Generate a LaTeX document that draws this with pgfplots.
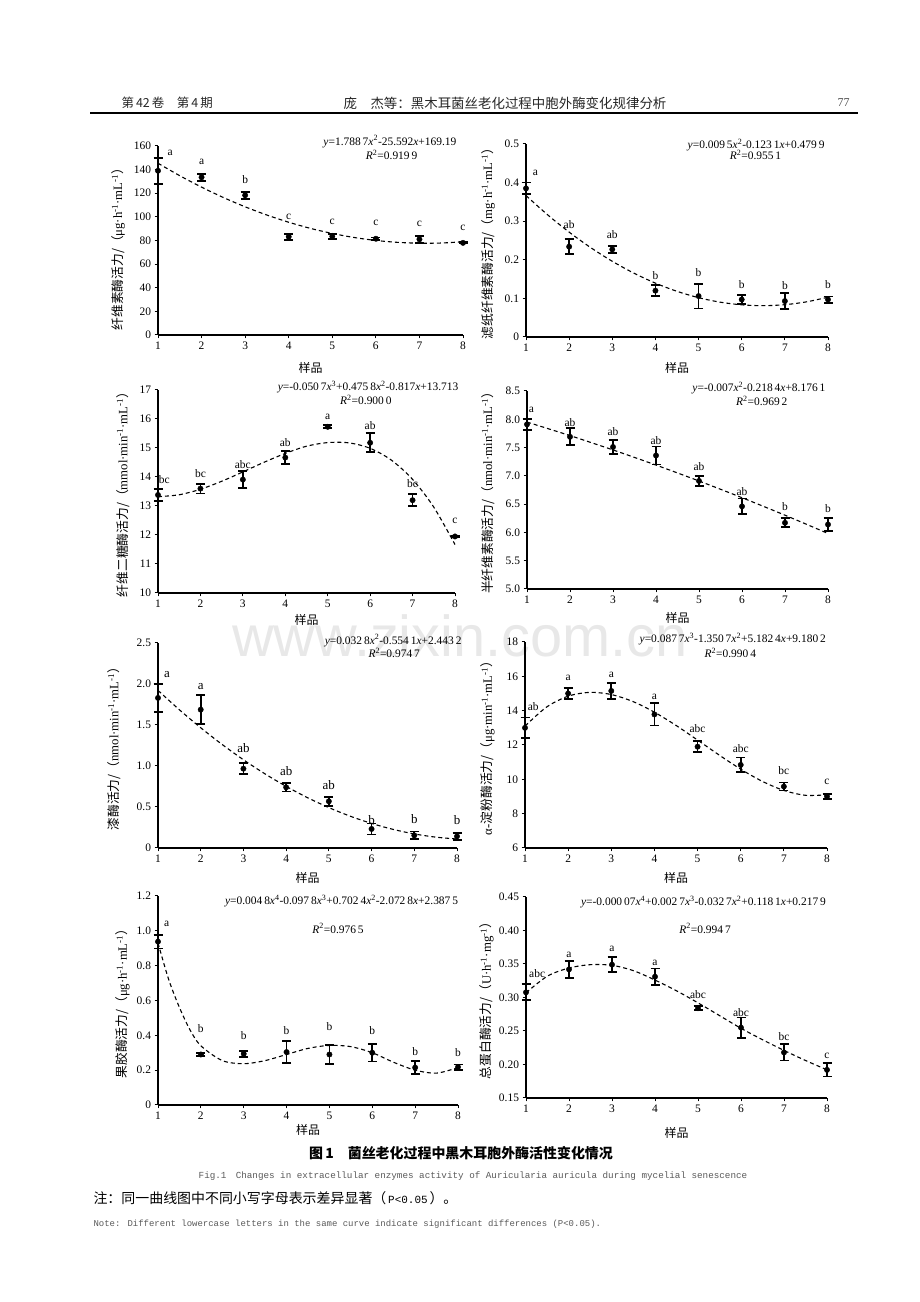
\documentclass[border=0pt]{standalone}
\usepackage{fontspec}
\setmainfont{Liberation Serif}
\newfontfamily\cjk{Noto Sans CJK SC}
\newfontfamily\mono{Liberation Mono}
\newfontfamily\wm{Liberation Sans}
\usepackage{pgfplots}
\pgfplotsset{compat=1.18}

\newcommand{\fs}[1]{\fontsize{#1}{#1}\selectfont}
\newcommand{\yl}[2]{{\cjk #1/（}#2{\cjk ）}}
\newcommand{\mi}{\textsuperscript{-1}}

\pgfplotsset{
 panel/.style={
   scale only axis, clip=false, anchor=south west,
   axis lines=left, axis line style={-, line width=1.3bp},
   xmin=1, xmax=8, xtick={1,...,8},
   tick align=outside, major tick length=3.5bp,
   every tick/.style={black, line width=1bp},
   tick label style={font=\fs{11.5}},
   /pgf/number format/assume math mode=true,
   xlabel={\cjk 样品}, xlabel style={font=\cjk\fs{12}, anchor=center},
   ylabel style={font=\fs{12.8}, anchor=center},
 },
 fit/.style={black, line width=1.1bp, dash pattern=on 4bp off 3bp, smooth},
 pts/.style={black, only marks, mark=*, mark size=2.7bp, mark options={fill=black},
   error bars/.cd, y dir=both, y explicit,
   error bar style={line width=1.8bp, black},
   error mark options={rotate=90, mark size=4.5bp, line width=1.8bp, black}},
}
\tikzset{
 lt/.style={font=\fs{11.5}},
 ltb/.style={font=\fs{13}},
 eq/.style={font=\fs{11.5}},
}

\begin{document}
\begin{tikzpicture}
\path[use as bounding box] (0,0) rectangle (920bp,1302bp);

% watermark
\node[font=\wm\fs{58}, text=black!9] at (460bp,666bp) {www.zixin.com.cn};

% header
\node[anchor=west, font=\cjk\fs{12.5}, text=black!85] at (118bp,1199bp) {第\,42\,卷\quad 第\,4\,期};
\node[font=\cjk\fs{13.5}, text=black!85] at (505bp,1199bp) {庞\quad 杰等：黑木耳菌丝老化过程中胞外酶变化规律分析};
\node[anchor=east, font=\fs{12}, text=black!70] at (853bp,1199bp) {77};
\draw[line width=2bp] (90bp,1188.5bp) -- (858bp,1188.5bp);

% ---------------- P1
\begin{axis}[panel, at={(158bp,967bp)}, width=305bp, height=189bp,
  ymin=0, ymax=160, ytick={0,20,...,160},
  ylabel={\yl{纤维素酶活力}{μg·h\mi·mL\mi}},
  ylabel style={at={(axis description cs:-0.131,0.47)}},
  xlabel style={at={(axis description cs:0.5,-0.175)}}]
\addplot[fit] coordinates {(1,145.39) (1.5,134.83) (2,125.16) (2.5,116.39) (3,108.51) (3.5,101.53) (4,95.44) (4.5,90.25) (5,85.95) (5.5,82.54) (6,80.03) (6.5,78.42) (7,77.69) (7.5,77.86) (8,78.93)};
\addplot[pts] coordinates {(1,139) +- (0,11) (2,133.5) +- (0,3) (3,118.3) +- (0,3) (4,83.2) +- (0,2.5) (5,83.5) +- (0,2) (6,81.5) +- (0,1) (7,81) +- (0,3) (8,78) +- (0,0.6)};
\node[lt] at (axis cs:1.28,154) {a};
\node[lt] at (axis cs:2,146.5) {a};
\node[lt] at (axis cs:3,131.5) {b};
\node[lt] at (axis cs:4,100) {c};
\node[lt] at (axis cs:5,95.8) {c};
\node[lt] at (axis cs:6,95) {c};
\node[lt] at (axis cs:7,93.8) {c};
\node[lt] at (axis cs:8,90.7) {c};
\node[eq, anchor=east] at (axis description cs:0.99,1.023) {\textit{y}=1.788\,7\textit{x}\textsuperscript{2}-25.592\textit{x}+169.19};
\node[eq] at (axis description cs:0.766,0.952) {\textit{R}\textsuperscript{2}=0.919\,9};
\end{axis}

% ---------------- P2
\begin{axis}[panel, at={(526bp,965bp)}, width=302bp, height=193bp,
  ymin=0, ymax=0.5, ytick={0,0.1,0.2,0.3,0.4,0.5}, yticklabels={0,0.1,0.2,0.3,0.4,0.5},
  ylabel={\yl{滤纸纤维素酶活力}{mg·h\mi·mL\mi}},
  ylabel style={at={(axis description cs:-0.126,0.5)}},
  xlabel style={at={(axis description cs:0.5,-0.16)}}]
\addplot[fit] coordinates {(1,0.3663) (1.5,0.3166) (2,0.2717) (2.5,0.2315) (3,0.1961) (3.5,0.1654) (4,0.1395) (4.5,0.1183) (5,0.1019) (5.5,0.0902) (6,0.0833) (6.5,0.0811) (7,0.0837) (7.5,0.0910) (8,0.1031)};
\addplot[pts] coordinates {(1,0.385) +- (0,0.015) (2,0.234) +- (0,0.019) (3,0.227) +- (0,0.009) (4,0.12) +- (0,0.014) (5,0.106) +- (0,0.032) (6,0.097) +- (0,0.012) (7,0.093) +- (0,0.021) (8,0.097) +- (0,0.008)};
\node[lt] at (axis cs:1.22,0.424) {a};
\node[lt] at (axis cs:2,0.2915) {ab};
\node[lt] at (axis cs:3,0.266) {ab};
\node[lt] at (axis cs:4,0.158) {b};
\node[lt] at (axis cs:5,0.167) {b};
\node[lt] at (axis cs:6,0.136) {b};
\node[lt] at (axis cs:7,0.132) {b};
\node[lt] at (axis cs:8,0.136) {b};
\node[eq, anchor=east] at (axis description cs:1.0,0.995) {\textit{y}=0.009\,5\textit{x}\textsuperscript{2}-0.123\,1\textit{x}+0.479\,9};
\node[eq] at (axis description cs:0.76,0.943) {\textit{R}\textsuperscript{2}=0.955\,1};
\end{axis}

% ---------------- P3
\begin{axis}[panel, at={(158bp,709bp)}, width=297bp, height=203bp,
  ymin=10, ymax=17, ytick={10,11,...,17},
  ylabel={\yl{纤维二糖酶活力}{mmol·min\mi·mL\mi}},
  ylabel style={at={(axis description cs:-0.118,0.5)}},
  xlabel style={at={(axis description cs:0.5,-0.133)}}]
\addplot[fit] coordinates {(1,13.321) (1.5,13.387) (2,13.577) (2.5,13.852) (3,14.175) (3.5,14.508) (4,14.813) (4.5,15.061) (5,15.186) (5.5,15.177) (6,14.989) (6.5,14.582) (7,13.918) (7.5,12.960) (8,11.670)};
\addplot[pts] coordinates {(1,13.38) +- (0,0.2) (2,13.6) +- (0,0.17) (3,13.91) +- (0,0.29) (4,14.67) +- (0,0.23) (5,15.73) +- (0,0.05) (6,15.18) +- (0,0.33) (7,13.2) +- (0,0.21) (8,11.95) +- (0,0.03)};
\node[lt] at (axis cs:1.15,13.92) {bc};
\node[lt] at (axis cs:2,14.13) {bc};
\node[lt] at (axis cs:3,14.44) {abc};
\node[lt] at (axis cs:4,15.2) {ab};
\node[lt] at (axis cs:5,16.06) {a};
\node[lt] at (axis cs:6,15.77) {ab};
\node[lt] at (axis cs:7,13.76) {bc};
\node[lt] at (axis cs:8,12.48) {c};
\node[eq, anchor=east] at (axis description cs:1.023,1.013) {\textit{y}=-0.050\,7\textit{x}\textsuperscript{3}+0.475\,8\textit{x}\textsuperscript{2}-0.817\textit{x}+13.713};
\node[eq] at (axis description cs:0.70,0.951) {\textit{R}\textsuperscript{2}=0.900\,0};
\end{axis}

% ---------------- P4
\begin{axis}[panel, at={(527bp,713bp)}, width=301bp, height=198bp,
  ymin=5, ymax=8.5, ytick={5,5.5,...,8.5}, yticklabels={5.0,5.5,6.0,6.5,7.0,7.5,8.0,8.5},
  ylabel={\yl{半纤维素酶活力}{nmol·min\mi·mL\mi}},
  ylabel style={at={(axis description cs:-0.13,0.5)}},
  xlabel style={at={(axis description cs:0.5,-0.146)}}]
\addplot[fit] coordinates {(1,7.9507) (2,7.7113) (3,7.4579) (4,7.1905) (5,6.9091) (6,6.6137) (7,6.3043) (8,5.9809)};
\addplot[pts] coordinates {(1,7.91) +- (0,0.1) (2,7.69) +- (0,0.15) (3,7.51) +- (0,0.12) (4,7.36) +- (0,0.16) (5,6.91) +- (0,0.09) (6,6.46) +- (0,0.14) (7,6.17) +- (0,0.08) (8,6.14) +- (0,0.11)};
\node[lt] at (axis cs:1.1,8.17) {a};
\node[lt] at (axis cs:2,7.95) {ab};
\node[lt] at (axis cs:3,7.78) {ab};
\node[lt] at (axis cs:4,7.63) {ab};
\node[lt] at (axis cs:5,7.17) {ab};
\node[lt] at (axis cs:6,6.73) {ab};
\node[lt] at (axis cs:7,6.45) {b};
\node[lt] at (axis cs:8,6.42) {b};
\node[eq, anchor=east] at (axis description cs:1.003,1.015) {\textit{y}=-0.007\textit{x}\textsuperscript{2}-0.218\,4\textit{x}+8.176\,1};
\node[eq] at (axis description cs:0.78,0.951) {\textit{R}\textsuperscript{2}=0.969\,2};
\end{axis}

% ---------------- P5
\begin{axis}[panel, at={(158bp,454bp)}, width=299bp, height=205bp,
  ymin=0, ymax=2.5, ytick={0,0.5,1,1.5,2,2.5}, yticklabels={0,0.5,1.0,1.5,2.0,2.5},
  ylabel={\yl{漆酶活力}{nmol·min\mi·mL\mi}},
  ylabel style={at={(axis description cs:-0.147,0.5)}},
  xlabel style={at={(axis description cs:0.5,-0.146)}}]
\addplot[fit] coordinates {(1,1.9219) (1.5,1.6859) (2,1.4662) (2.5,1.2630) (3,1.0761) (3.5,0.9057) (4,0.7516) (4.5,0.6140) (5,0.4927) (5.5,0.3879) (6,0.2994) (6.5,0.2274) (7,0.1717) (7.5,0.1325) (8,0.1096)};
\addplot[pts] coordinates {(1,1.83) +- (0,0.17) (2,1.687) +- (0,0.177) (3,0.967) +- (0,0.067) (4,0.74) +- (0,0.05) (5,0.569) +- (0,0.057) (6,0.232) +- (0,0.067) (7,0.154) +- (0,0.047) (8,0.142) +- (0,0.04)};
\node[ltb] at (axis cs:1.21,2.11) {a};
\node[ltb] at (axis cs:2,1.97) {a};
\node[ltb] at (axis cs:3,1.22) {ab};
\node[ltb] at (axis cs:4,0.943) {ab};
\node[ltb] at (axis cs:5,0.772) {ab};
\node[ltb] at (axis cs:6,0.337) {b};
\node[ltb] at (axis cs:7,0.358) {b};
\node[ltb] at (axis cs:8,0.337) {b};
\node[eq, anchor=east] at (axis description cs:1.027,1.011) {\textit{y}=0.032\,8\textit{x}\textsuperscript{2}-0.554\,1\textit{x}+2.443\,2};
\node[eq] at (axis description cs:0.79,0.953) {\textit{R}\textsuperscript{2}=0.974\,7};
\end{axis}

% ---------------- P6
\begin{axis}[panel, at={(525bp,454bp)}, width=302bp, height=206bp,
  ymin=6, ymax=18, ytick={6,8,...,18},
  ylabel={α-\yl{淀粉酶活力}{μg·min\mi·mL\mi}},
  ylabel style={at={(axis description cs:-0.123,0.5)}},
  xlabel style={at={(axis description cs:0.5,-0.146)}}]
\addplot[fit] coordinates {(1,13.100) (1.5,14.211) (2,14.844) (2.5,15.065) (3,14.939) (3.5,14.533) (4,13.911) (4.5,13.141) (5,12.287) (5.5,11.416) (6,10.593) (6.5,9.883) (7,9.354) (7.5,9.070) (8,9.097)};
\addplot[pts] coordinates {(1,13.0) +- (0,0.6) (2,15.0) +- (0,0.33) (3,15.15) +- (0,0.47) (4,13.78) +- (0,0.65) (5,11.9) +- (0,0.33) (6,10.84) +- (0,0.43) (7,9.58) +- (0,0.23) (8,9.0) +- (0,0.13)};
\node[lt] at (axis cs:1.19,14.26) {ab};
\node[lt] at (axis cs:2,15.9) {a};
\node[lt] at (axis cs:3,16.06) {a};
\node[lt] at (axis cs:4,14.81) {a};
\node[lt] at (axis cs:5,12.93) {abc};
\node[lt] at (axis cs:6,11.77) {abc};
\node[lt] at (axis cs:7,10.49) {bc};
\node[lt] at (axis cs:8,9.87) {c};
\node[eq, anchor=east] at (axis description cs:1.008,1.013) {\textit{y}=0.087\,7\textit{x}\textsuperscript{3}-1.350\,7\textit{x}\textsuperscript{2}+5.182\,4\textit{x}+9.180\,2};
\node[eq] at (axis description cs:0.68,0.948) {\textit{R}\textsuperscript{2}=0.990\,4};
\end{axis}

% ---------------- P7
\begin{axis}[panel, at={(158bp,197bp)}, width=300bp, height=209bp,
  ymin=0, ymax=1.2, ytick={0,0.2,0.4,0.6,0.8,1,1.2}, yticklabels={0,0.2,0.4,0.6,0.8,1.0,1.2},
  ylabel={\yl{果胶酶活力}{μg·h\mi·mL\mi}},
  ylabel style={at={(axis description cs:-0.117,0.5)}},
  xlabel style={at={(axis description cs:0.5,-0.12)}}]
\addplot[fit] coordinates {(1,0.93) (1.25,0.72) (1.5,0.56) (1.75,0.43) (2,0.34) (2.5,0.255) (3,0.237) (3.5,0.255) (4,0.29) (4.5,0.325) (5,0.342) (5.5,0.335) (6,0.30) (6.5,0.245) (7,0.20) (7.5,0.183) (8,0.215)};
\addplot[pts] coordinates {(1,0.938) +- (0,0.04) (2,0.29) +- (0,0.01) (3,0.294) +- (0,0.018) (4,0.304) +- (0,0.064) (5,0.29) +- (0,0.055) (6,0.30) +- (0,0.05) (7,0.215) +- (0,0.036) (8,0.218) +- (0,0.015)};
\node[lt] at (axis cs:1.2,1.042) {a};
\node[lt] at (axis cs:2,0.44) {b};
\node[lt] at (axis cs:3,0.40) {b};
\node[lt] at (axis cs:4,0.43) {b};
\node[lt] at (axis cs:5,0.448) {b};
\node[lt] at (axis cs:6,0.425) {b};
\node[lt] at (axis cs:7,0.305) {b};
\node[lt] at (axis cs:8,0.30) {b};
\node[eq, anchor=east] at (axis description cs:1.012,0.977) {\textit{y}=0.004\,8\textit{x}\textsuperscript{4}-0.097\,8\textit{x}\textsuperscript{3}+0.702\,4\textit{x}\textsuperscript{2}-2.072\,8\textit{x}+2.387\,5};
\node[eq] at (axis description cs:0.60,0.845) {\textit{R}\textsuperscript{2}=0.976\,5};
\end{axis}

% ---------------- P8
\begin{axis}[panel, at={(526bp,204bp)}, width=301bp, height=201bp,
  ymin=0.15, ymax=0.45, ytick={0.15,0.2,0.25,0.3,0.35,0.4,0.45}, yticklabels={0.15,0.20,0.25,0.30,0.35,0.40,0.45},
  ylabel={\yl{总蛋白酶活力}{U·h\mi·mg\mi}},
  ylabel style={at={(axis description cs:-0.13,0.5)}},
  xlabel style={at={(axis description cs:0.5,-0.174)}}]
\addplot[fit] coordinates {(1,0.307) (1.5,0.332) (2,0.344) (2.5,0.349) (3,0.348) (3.5,0.34) (4,0.326) (4.5,0.31) (5,0.292) (5.5,0.273) (6,0.254) (6.5,0.237) (7,0.221) (7.5,0.206) (8,0.192)};
\addplot[pts] coordinates {(1,0.3077) +- (0,0.012) (2,0.342) +- (0,0.0124) (3,0.349) +- (0,0.0114) (4,0.331) +- (0,0.0124) (5,0.284) +- (0,0.003) (6,0.255) +- (0,0.015) (7,0.218) +- (0,0.012) (8,0.192) +- (0,0.01)};
\node[lt] at (axis cs:1.26,0.336) {abc};
\node[lt] at (axis cs:2,0.363) {a};
\node[lt] at (axis cs:3,0.373) {a};
\node[lt] at (axis cs:4,0.352) {a};
\node[lt] at (axis cs:5,0.305) {abc};
\node[lt] at (axis cs:6,0.277) {abc};
\node[lt] at (axis cs:7,0.241) {bc};
\node[lt] at (axis cs:8,0.213) {c};
\node[eq, anchor=east] at (axis description cs:1.008,0.974) {\textit{y}=-0.000\,07\textit{x}\textsuperscript{4}+0.002\,7\textit{x}\textsuperscript{3}-0.032\,7\textit{x}\textsuperscript{2}+0.118\,1\textit{x}+0.217\,9};
\node[eq] at (axis description cs:0.595,0.844) {\textit{R}\textsuperscript{2}=0.994\,7};
\end{axis}

% caption and notes
\node[font=\cjk\bfseries\fs{14}] at (461bp,149bp) {图\,1\quad 菌丝老化过程中黑木耳胞外酶活性变化情况};
\node[font=\mono\fs{9.3}, text=black!65] at (473bp,126bp) {Fig.1\quad Changes in extracellular enzymes activity of Auricularia auricula during mycelial senescence};
\node[anchor=west, font=\cjk\fs{14}] at (90bp,104bp) {注：同一曲线图中不同小写字母表示差异显著（{\mono\fs{11}\,P<0.05\,}）。};
\node[anchor=west, font=\mono\fs{9}, text=black!65] at (90bp,78bp) {Note: Different lowercase letters in the same curve indicate significant differences (P<0.05).};
\end{tikzpicture}
\end{document}
